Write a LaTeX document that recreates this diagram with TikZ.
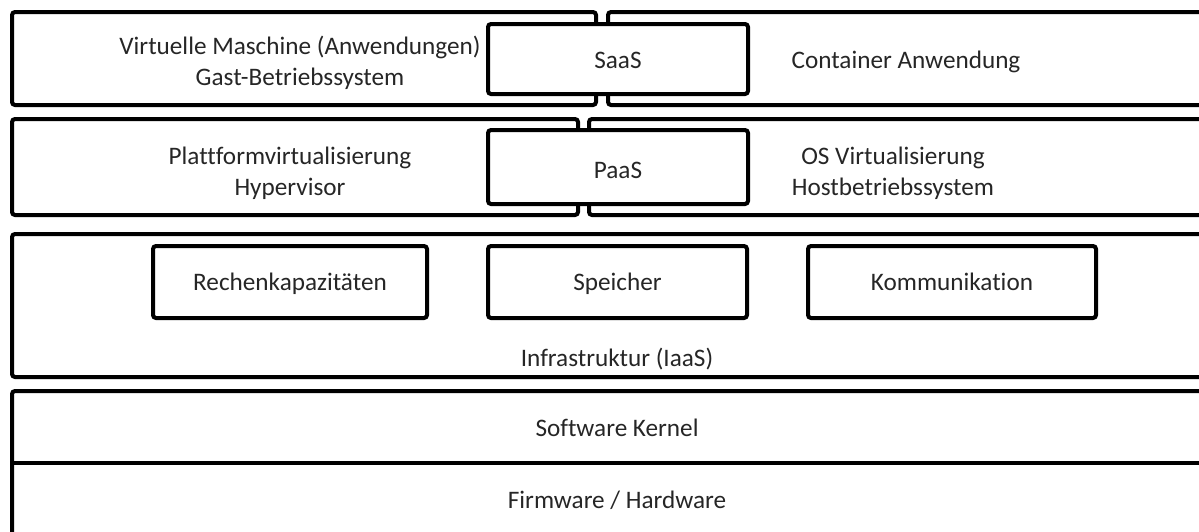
\documentclass[tikz,border=0pt]{standalone}
\usepackage{fontspec}
\setmainfont{Carlito}[Ligatures=NoCommon]

\begin{document}
\begin{tikzpicture}[x=0.5pt,y=-0.5pt,
    layer/.style={black, line width=2pt, rounded corners=1.5pt},
    inbox/.style={black, line width=2pt, rounded corners=1.5pt, fill=white},
    lbl/.style={align=center, text=black!85, font=\fontsize{12.6}{15.4}\selectfont},
    single/.style={lbl, text height=1.6ex, text depth=.45ex, yshift=-1.3pt}]
    \useasboundingbox (0,0) rectangle (1199,531);
    \clip (0,0) rectangle (1199,531);
    % application layer
    \draw[layer] (12,12) rectangle (596,105);
    \draw[layer] (608,12) rectangle (1230,105);
    \draw[inbox] (488,24) rectangle (748,94);
    \node[lbl] (vm) at (300,63) {Virtuelle Maschine (Anwendungen)\\Gast-Betriebssystem};
    \node[single] (saas) at (618,60) {SaaS};
    \node[single] (container) at (906,60) {Container Anwendung};
    % virtualisation layer
    \draw[layer] (12,119) rectangle (578,215);
    \draw[layer] (589,119) rectangle (1230,215);
    \draw[inbox] (488,130) rectangle (748,204);
    \node[lbl] (platform) at (290,173) {Plattformvirtualisierung\\Hypervisor};
    \node[single] (paas) at (618,170) {PaaS};
    \node[lbl] (osvirt) at (893,173) {OS Virtualisierung\\Hostbetriebssystem};
    % infrastructure layer
    \draw[layer] (12,234) rectangle (1230,377);
    \draw[inbox] (153,246) rectangle (427,318);
    \draw[inbox] (488,246) rectangle (747,318);
    \draw[inbox] (808,246) rectangle (1096,318);
    \node[single] (rechen) at (290,282) {Rechenkapazitäten};
    \node[single] (speicher) at (617.5,282) {Speicher};
    \node[single] (komm) at (952,282) {Kommunikation};
    \node[single] (iaas) at (617,358) {Infrastruktur (IaaS)};
    % kernel and hardware
    \draw[layer] (12,391) rectangle (1230,560);
    \draw[layer] (12,463) -- (1230,463);
    \node[single] (kernel) at (617,428) {Software Kernel};
    \node[single] (hw) at (617,500) {Firmware / Hardware};
\end{tikzpicture}
\end{document}
